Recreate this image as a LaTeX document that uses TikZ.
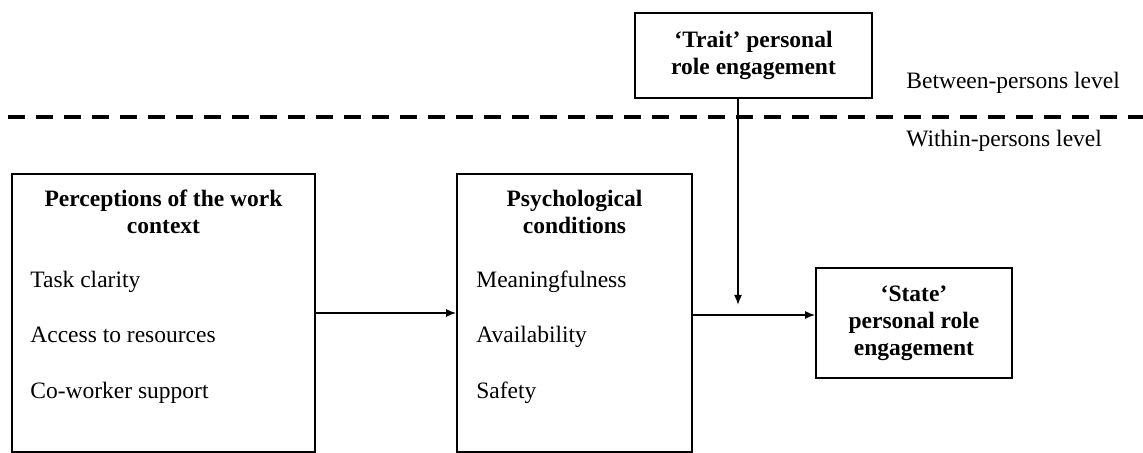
\documentclass[tikz,border=0pt]{standalone}
\usepackage{fontspec}
\setmainfont{Liberation Serif}
\usetikzlibrary{arrows.meta}
\tikzset{
  box/.style={draw, line width=0.8pt, inner sep=0pt},
  head/.style={font=\bfseries\fontsize{11.75}{13.5}\selectfont, align=center, inner sep=0pt},
  item/.style={font=\fontsize{11.75}{14}\selectfont, anchor=base west, inner sep=0pt},
  link/.style={line width=0.8pt, -{Latex[length=5pt,width=4pt]}}
}

\begin{document}
\begin{tikzpicture}[x=0.5pt, y=-0.5pt]
			%%%%% START %%%%%
			\useasboundingbox (0,0) rectangle (1143,453);
			
			\draw[line width=2pt, dash pattern=on 8.5pt off 5.5pt] (8,117) -- (1143,117);
			\node[item] (between) at (906,89) {Between-persons level};
			\node[item] (within) at (906,147) {Within-persons level};
			
			\node[box, minimum width=118.5pt, minimum height=42.5pt] (trait) at (753.5,55.5) {};
			\node[head] (traittitle) at (trait) {‘Trait’ personal\\role engagement};
			
			\node[box, minimum width=151.5pt, minimum height=139pt] (work) at (163.5,313) {};
			\node[head] (worktitle) at (163.5,212) {Perceptions of the work\\context};
			\node[item] (task) at (30,288) {Task clarity};
			\node[item] (access) at (30,343) {Access to resources};
			\node[item] (coworker) at (30,398) {Co-worker support};
			
			\node[box, minimum width=117.5pt, minimum height=139pt] (psych) at (574.5,313) {};
			\node[head] (psychtitle) at (574.5,212) {Psychological\\conditions};
			\node[item] (meaning) at (476,288) {Meaningfulness};
			\node[item] (avail) at (476,343) {Availability};
			\node[item] (safety) at (476,398) {Safety};
			
			\node[box, minimum width=98pt, minimum height=55pt] (state) at (914,323) {};
			\node[head] (statetitle) at (state) {‘State’\\personal role\\engagement};
			
			\coordinate (join) at (738,315);
			\coordinate (tip) at (738,305);
			
			\draw[link] (work.east) -- (psych.west);
			\draw[link] (psych.east |- join) -- (state.west |- join);
			\draw[link] (trait.south -| tip) -- (tip);
			
			%%%%% END %%%%%
\end{tikzpicture}
\end{document}
